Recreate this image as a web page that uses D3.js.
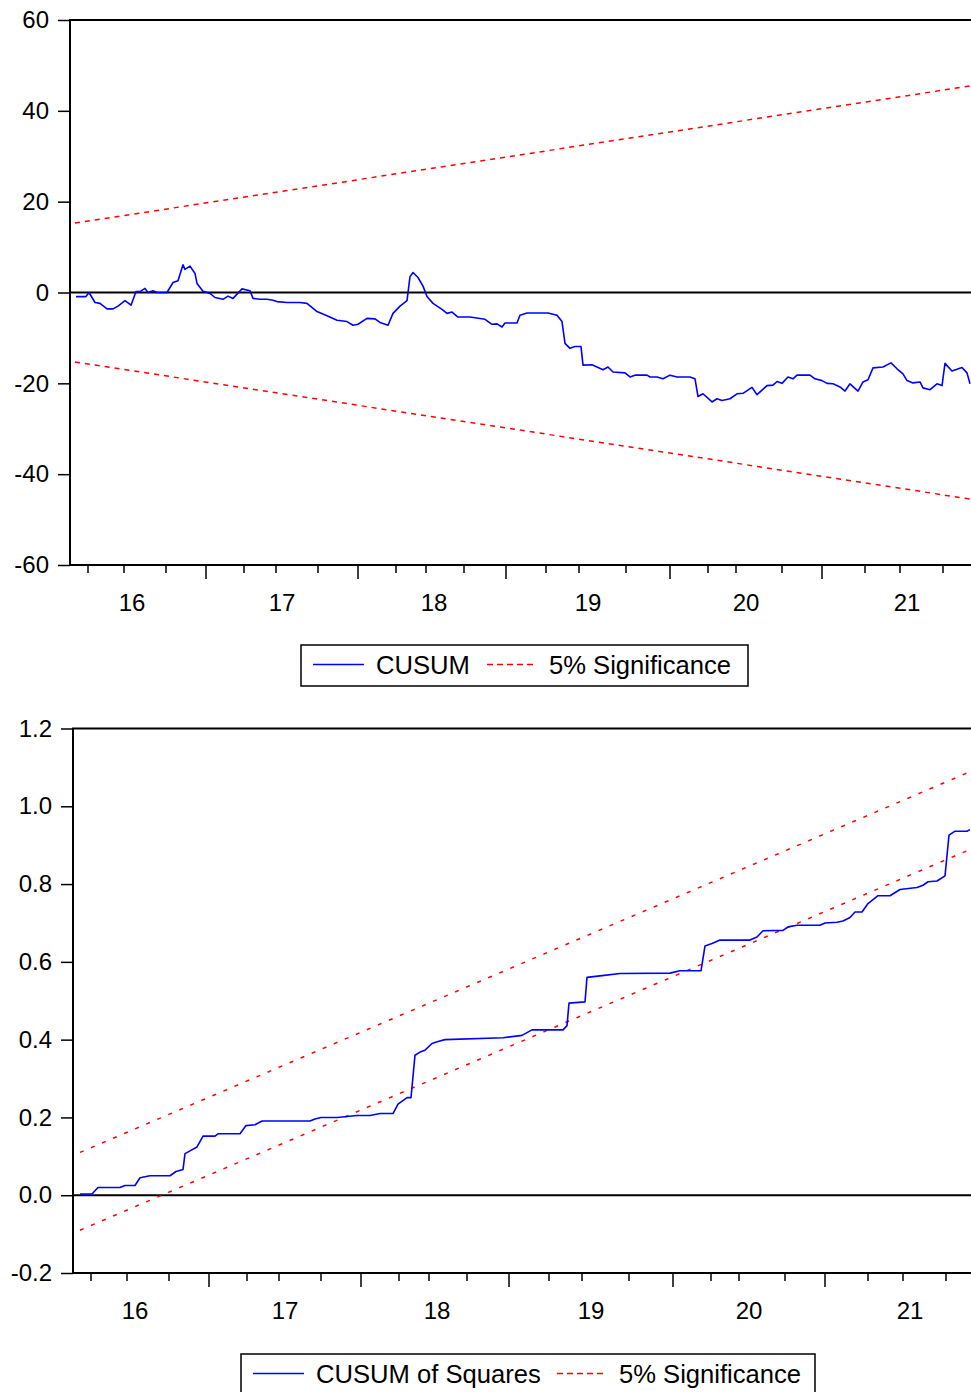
<!DOCTYPE html>
<html>
<head>
<meta charset="utf-8">
<script src="https://cdn.jsdelivr.net/npm/d3@7"></script>
<style>
  body { margin: 0; background: #fff; }
  svg { display: block; font-family: "Liberation Sans", Arial, sans-serif; }
  .tickLabel { font-size: 24px; fill: #000; }
  .legendText { font-size: 25.6px; fill: #000; }
</style>
</head>
<body>
<div id="chart"></div>
<script>
const width = 971;
const height = 1392;

// observation index along the sample (shared by both panels)
const obsMax = 905;
const majorTicks = [136, 288, 436, 600, 752];
const minorTicks = [18, 54, 96, 174, 206, 248, 326, 356, 394, 476, 509, 556, 638, 666, 712, 795, 830, 873];
const yearLabels = ["16", "17", "18", "19", "20", "21"];
const yearLabelPos = [62, 212, 364, 518, 676, 837];

// CUSUM panel
const cusumObs = [6, 16, 19, 25, 30, 37, 43, 48, 55, 61, 66, 70, 75, 78, 83, 87, 97, 103, 108, 113, 115, 120, 125, 127, 133,
  140, 145, 153, 158, 163, 172, 180, 183, 190, 197, 203, 207, 217, 230, 237, 247, 257, 267, 277, 283, 288, 297, 305, 310,
  318, 323, 330, 337, 340, 343, 348, 353, 357, 363, 372, 377, 382, 388, 400, 415, 422, 427, 432, 435, 447, 450, 457, 478,
  487, 492, 495, 500, 505, 511, 513, 522, 527, 533, 538, 543, 555, 560, 565, 577, 580, 587, 593, 600, 607, 620, 625, 628,
  633, 642, 647, 652, 660, 667, 673, 682, 687, 697, 703, 707, 712, 718, 723, 727, 740, 745, 752, 757, 763, 770, 775, 780,
  788, 793, 798, 803, 813, 821, 827, 833, 837, 843, 850, 853, 860, 867, 872, 875, 882, 887, 892, 897, 900];
const cusumVals = [-0.9, -0.9, 0, -2.2, -2.4, -3.6, -3.6, -3.0, -1.8, -2.8, 0.2, 0.2, 0.9, 0, 0.4, 0, 0, 2.2, 2.6, 6.1, 5.1,
  5.8, 4.2, 2.0, 0.3, -0.2, -1.1, -1.5, -0.8, -1.3, 0.8, 0.4, -1.3, -1.5, -1.5, -1.7, -2.0, -2.2, -2.2, -2.4, -4.2, -5.1,
  -6.1, -6.4, -7.2, -7.0, -5.7, -5.8, -6.6, -7.2, -4.6, -3.0, -1.8, 3.5, 4.4, 3.3, 1.4, -0.9, -2.4, -3.7, -4.6, -4.3, -5.4,
  -5.4, -5.9, -7.0, -6.9, -7.6, -6.7, -6.7, -5.0, -4.5, -4.5, -5.0, -6.4, -11.2, -12.3, -11.9, -11.9, -16.0, -15.9, -16.4,
  -17.0, -16.4, -17.5, -17.7, -18.6, -18.2, -18.2, -18.6, -18.6, -19.0, -18.2, -18.6, -18.6, -19.0, -22.9, -22.3, -24.1,
  -23.4, -23.8, -23.4, -22.3, -22.2, -20.9, -22.5, -20.5, -20.4, -19.6, -20.0, -18.6, -19.0, -18.2, -18.2, -19.0, -19.4,
  -20.0, -20.1, -20.8, -21.7, -20.1, -21.7, -19.7, -19.2, -16.6, -16.4, -15.5, -16.8, -17.9, -19.4, -19.9, -19.7, -21.0,
  -21.4, -20.1, -20.5, -15.6, -17.3, -16.9, -16.5, -17.7, -20.1];
const cusumBandObs = [5, 901];
const cusumUpper = [15.3, 45.5];
const cusumLower = [-15.3, -45.5];
const cusumTicks = [-60, -40, -20, 0, 20, 40, 60];

// CUSUM of squares panel
const sqObs = [7, 19, 25, 47, 52, 62, 67, 77, 97, 103, 110, 112, 117, 124, 130, 142, 145, 167, 173, 182, 189, 237, 242, 248,
  264, 284, 297, 307, 320, 325, 334, 338, 342, 347, 352, 359, 365, 372, 430, 449, 459, 490, 494, 496, 512, 514, 527, 547,
  597, 607, 628, 632, 639, 647, 677, 684, 690, 710, 715, 724, 747, 752, 764, 770, 777, 782, 789, 795, 805, 817, 827, 844,
  850, 855, 864, 872, 876, 882, 894, 897];
const sqVals = [0.003, 0.003, 0.02, 0.02, 0.025, 0.025, 0.045, 0.05, 0.05, 0.061, 0.066, 0.107, 0.114, 0.124, 0.152, 0.152,
  0.158, 0.158, 0.179, 0.181, 0.191, 0.191, 0.196, 0.2, 0.2, 0.205, 0.205, 0.21, 0.21, 0.234, 0.251, 0.251, 0.36, 0.368,
  0.373, 0.39, 0.395, 0.4, 0.405, 0.411, 0.425, 0.425, 0.436, 0.494, 0.497, 0.56, 0.564, 0.57, 0.571, 0.577, 0.577, 0.641,
  0.647, 0.656, 0.656, 0.664, 0.68, 0.681, 0.69, 0.694, 0.694, 0.7, 0.702, 0.705, 0.714, 0.728, 0.728, 0.75, 0.77, 0.77,
  0.786, 0.791, 0.797, 0.806, 0.808, 0.821, 0.926, 0.936, 0.936, 0.94];
const sqBandObs = [7, 898];
const sqUpper = [0.11, 1.09];
const sqLower = [-0.09, 0.89];
const sqTicks = [-0.2, 0.0, 0.2, 0.4, 0.6, 0.8, 1.0, 1.2];

const svg = d3.select("#chart").append("svg")
  .attr("width", width)
  .attr("height", height);

function drawPanel(opt) {
  const g = svg.append("g");
  const x = d3.scaleLinear().domain([0, obsMax]).range([opt.left, opt.left + obsMax]);
  const y = d3.scaleLinear().domain(opt.yDomain).range([opt.bottom, opt.top]);

  // y axis ticks
  const yAxis = d3.axisLeft(y)
    .tickValues(opt.yTicks)
    .tickSize(12)
    .tickPadding(9)
    .tickFormat(opt.yFormat);
  const ya = g.append("g")
    .attr("transform", `translate(${opt.left},0)`)
    .call(yAxis);
  ya.select(".domain").remove();
  ya.selectAll(".tick line").attr("stroke", "#000").attr("stroke-width", 1.5);
  ya.selectAll(".tick text").attr("class", "tickLabel").attr("font-size", null).attr("font-family", null);

  // x axis: quarter ticks and year ticks
  const xa = g.append("g").attr("class", "xAxis");
  xa.selectAll("line.minor")
    .data(minorTicks)
    .enter().append("line")
    .attr("x1", d => x(d)).attr("x2", d => x(d))
    .attr("y1", opt.bottom).attr("y2", opt.bottom + 8)
    .attr("stroke", "#000").attr("stroke-width", 1.5);
  xa.selectAll("line.major")
    .data(majorTicks)
    .enter().append("line")
    .attr("x1", d => x(d)).attr("x2", d => x(d))
    .attr("y1", opt.bottom).attr("y2", opt.bottom + 14)
    .attr("stroke", "#000").attr("stroke-width", 1.5);
  xa.selectAll("text")
    .data(yearLabels)
    .enter().append("text")
    .attr("class", "tickLabel")
    .attr("x", (d, i) => x(yearLabelPos[i]))
    .attr("y", opt.bottom + 46)
    .style("text-anchor", "middle")
    .text(d => d);

  // zero line
  g.append("line")
    .attr("x1", opt.left).attr("x2", width)
    .attr("y1", y(0)).attr("y2", y(0))
    .attr("stroke", "#000").attr("stroke-width", 2);

  // significance bands
  const line = d3.line().x(d => x(d[0])).y(d => y(d[1]));
  [opt.upper, opt.lower].forEach(band => {
    g.append("path")
      .datum(opt.bandObs.map((o, i) => [o, band[i]]))
      .attr("d", line)
      .attr("fill", "none")
      .attr("stroke", "#ff0000")
      .attr("stroke-width", 1.5)
      .attr("stroke-dasharray", opt.dash);
  });

  // main series
  g.append("path")
    .datum(opt.obs.map((o, i) => [o, opt.vals[i]]))
    .attr("d", line)
    .attr("fill", "none")
    .attr("stroke", "#0000ff")
    .attr("stroke-width", 1.6)
    .attr("stroke-linejoin", "round");

  // frame: left, top, bottom
  g.append("path")
    .attr("d", `M${width + 5},${opt.top}H${opt.left}V${opt.bottom}H${width + 5}`)
    .attr("fill", "none")
    .attr("stroke", "#000")
    .attr("stroke-width", 2);

  // legend
  const lg = g.append("g");
  lg.append("rect")
    .attr("x", opt.legend.x).attr("y", opt.legend.y)
    .attr("width", opt.legend.w).attr("height", 41)
    .attr("fill", "#fff").attr("stroke", "#000").attr("stroke-width", 1.5);
  const ly = opt.legend.y + 19.5;
  lg.append("line")
    .attr("x1", opt.legend.x + 12).attr("x2", opt.legend.x + 63)
    .attr("y1", ly).attr("y2", ly)
    .attr("stroke", "#0000ff").attr("stroke-width", 1.6);
  lg.append("text")
    .attr("class", "legendText")
    .attr("x", opt.legend.x + 75).attr("y", ly + 9)
    .text(opt.legend.labels[0]);
  lg.append("line")
    .attr("x1", opt.legend.x2).attr("x2", opt.legend.x2 + 48)
    .attr("y1", ly).attr("y2", ly)
    .attr("stroke", "#ff0000").attr("stroke-width", 1.5)
    .attr("stroke-dasharray", "6,4");
  lg.append("text")
    .attr("class", "legendText")
    .attr("x", opt.legend.x2 + 62).attr("y", ly + 9)
    .text(opt.legend.labels[1]);
}

drawPanel({
  left: 70, top: 20, bottom: 565,
  yDomain: [-60, 60], yTicks: cusumTicks, yFormat: d => String(d),
  obs: cusumObs, vals: cusumVals,
  bandObs: cusumBandObs, upper: cusumUpper, lower: cusumLower,
  dash: "5,5",
  legend: { x: 301, y: 645, w: 447, x2: 487, labels: ["CUSUM", "5% Significance"] }
});

drawPanel({
  left: 73, top: 728.5, bottom: 1273,
  yDomain: [-0.2, 1.2], yTicks: sqTicks, yFormat: d => d.toFixed(1),
  obs: sqObs, vals: sqVals,
  bandObs: sqBandObs, upper: sqUpper, lower: sqLower,
  dash: "4,8",
  legend: { x: 241, y: 1354, w: 574, x2: 557, labels: ["CUSUM of Squares", "5% Significance"] }
});
</script>
</body>
</html>
